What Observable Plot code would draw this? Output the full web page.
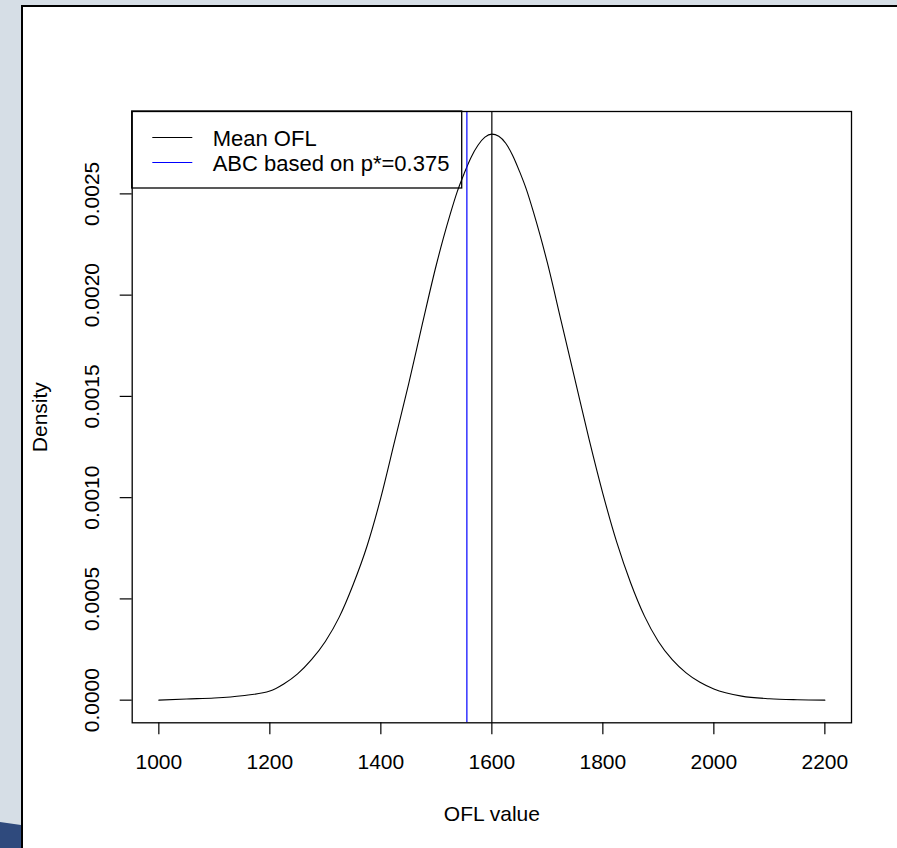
<!DOCTYPE html>
<html>
<head>
<meta charset="utf-8">
<script src="https://cdn.jsdelivr.net/npm/d3@7"></script>
<script src="https://cdn.jsdelivr.net/npm/@observablehq/plot@0.6"></script>
<style>
  html, body { margin: 0; padding: 0; }
  body { width: 897px; height: 848px; background: #d6dee6; position: relative; overflow: hidden; font-family: "Liberation Sans", Arial, sans-serif; }
  #panel { position: absolute; left: 21px; top: 5px; right: 0; bottom: 0; background: #fff; border-left: 2px solid #000; border-top: 2px solid #000; }
  #navy { position: absolute; left: 0; top: 820px; width: 21px; height: 28px; background: #2f4a7d; clip-path: polygon(0 2px, 100% 5px, 100% 100%, 0 100%); }
  #chart { position: absolute; left: 0; top: 0; }
</style>
</head>
<body>
<div id="panel"></div>
<div id="navy"></div>
<div id="chart"></div>
<script>
// Density curve of OFL value
const ofl = [1000,1050,1100,1150,1200,1225,1250,1275,1300,1325,1350,1375,1400,1425,1450,1475,1500,1512.5,1525,1537.5,1550,1562.5,1575,1587.5,1600,1612.5,1625,1637.5,1650,1662.5,1675,1687.5,1700,1725,1750,1775,1800,1825,1850,1875,1900,1925,1950,1975,2000,2050,2100,2150,2200];
const density = [0.0000000,0.0000060,0.0000110,0.0000220,0.0000450,0.0000800,0.0001300,0.0002000,0.0002900,0.0004100,0.0005700,0.0007600,0.0010000,0.0012800,0.0015600,0.0018600,0.0021500,0.0022800,0.0024000,0.0025100,0.0026000,0.0026800,0.0027400,0.0027800,0.0027950,0.0027850,0.0027500,0.0026900,0.0026100,0.0025200,0.0024100,0.0022900,0.0021600,0.0018700,0.0015800,0.0012900,0.0010200,0.0007800,0.0005800,0.0004150,0.0002900,0.0002000,0.0001350,0.0000880,0.0000550,0.0000200,0.0000070,0.0000020,0.0000000];
const meanOFL = 1600;
const abcValue = 1555;
const xTicks = [1000,1200,1400,1600,1800,2000,2200];
const yTicks = [0,0.0005,0.0010,0.0015,0.0020,0.0025];
const legendLabels = ["Mean OFL", "ABC based on p*=0.375"];
const legendColors = ["black", "#0000ff"];
const xLabel = "OFL value";
const yLabel = "Density";

const curve = ofl.map((x, i) => ({x, y: density[i]}));
const ext = (lo, hi) => [lo - 0.04 * (hi - lo), hi + 0.04 * (hi - lo)];
const xDom = ext(d3.min(ofl), d3.max(ofl));
const yDom = ext(0, d3.max(density));
const FS = 21;
const font = "'Liberation Sans', Arial, Helvetica, sans-serif";

const chart = Plot.plot({
  width: 897, height: 848,
  marginLeft: 131.7, marginRight: 46, marginTop: 111, marginBottom: 125.7,
  style: {background: "transparent", fontFamily: font, fontSize: FS + "px", color: "black", overflow: "visible"},
  x: {domain: xDom},
  y: {domain: yDom},
  marks: [
    Plot.axisX({ticks: xTicks, tickSize: 12, tickPadding: 19, tickFormat: d => String(d), label: null, fontSize: FS, stroke: "black", strokeWidth: 1.2}),
    Plot.axisY({ticks: yTicks, tickSize: 12, tickFormat: () => "", label: null, stroke: "black", strokeWidth: 1.2}),
    Plot.text(yTicks, {y: d => d, text: d => d3.format(".4f")(d), frameAnchor: "left", dx: -40, rotate: -90, textAnchor: "middle", lineAnchor: "middle", fontSize: FS, fill: "black"}),
    Plot.text([yLabel], {text: d => d, frameAnchor: "left", dx: -92, rotate: -90, textAnchor: "middle", lineAnchor: "middle", fontSize: FS, fill: "black"}),
    Plot.text([xLabel], {text: d => d, frameAnchor: "bottom", dy: 91, lineAnchor: "middle", fontSize: FS, fill: "black"}),
    Plot.line(curve, {x: "x", y: "y", stroke: "black", strokeWidth: 1.1, curve: "monotone-x"}),
    Plot.ruleX([meanOFL], {stroke: legendColors[0], strokeWidth: 1.2}),
    Plot.ruleX([abcValue], {stroke: legendColors[1], strokeWidth: 1.2}),
    Plot.frame({stroke: "black", strokeWidth: 1.3})
  ]
});
document.getElementById("chart").appendChild(chart);

// Legend (top-left of plot region, R style)
const svg = d3.select(chart);
const L = 131.7, T = 111;
const lg = svg.append("g").attr("font-family", font).attr("font-size", 22).attr("text-anchor", "start");
lg.append("rect").attr("x", L).attr("y", T).attr("width", 330).attr("height", 77)
  .attr("fill", "none").attr("stroke", "black").attr("stroke-width", 1.3);
legendLabels.forEach((lab, i) => {
  const cy = T + 26.5 + i * 25;
  lg.append("line").attr("x1", L + 20.6).attr("x2", L + 60.6).attr("y1", cy).attr("y2", cy)
    .attr("stroke", legendColors[i]).attr("stroke-width", 1.2);
  lg.append("text").attr("x", L + 81).attr("y", cy + 8.5).attr("text-anchor", "start").attr("fill", "black").text(lab);
});
</script>
</body>
</html>
